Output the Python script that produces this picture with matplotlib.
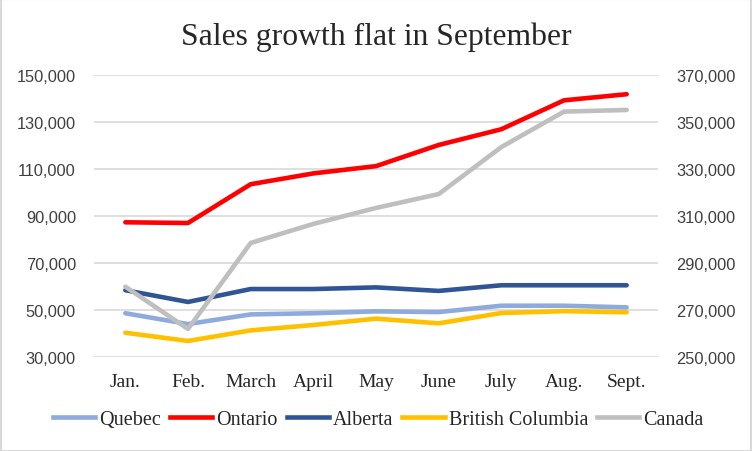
import matplotlib.pyplot as plt
from matplotlib.lines import Line2D
from matplotlib.ticker import FuncFormatter

months = ["Jan.", "Feb.", "March", "April", "May", "June", "July", "Aug.", "Sept."]

# provinces on left axis
quebec = [48500, 43900, 48000, 48500, 49300, 49000, 51700, 51700, 51000]
ontario = [87200, 86900, 103400, 108000, 111100, 120100, 126800, 139100, 141700]
alberta = [58300, 53300, 58800, 58800, 59500, 58000, 60400, 60400, 60400]
bc = [40200, 36700, 41200, 43500, 46200, 44200, 48600, 49400, 48900]
# canada total on right axis
canada = [279800, 261800, 298400, 306500, 313300, 319200, 339200, 354300, 355000]

serif = "Liberation Serif"
sans = "Liberation Sans"
txt = "#262626"

fig = plt.figure(figsize=(7.52, 4.52), dpi=100)
ax = fig.add_axes([0.125, 0.2086, 0.75, 0.6239])
ax2 = ax.twinx()

x = list(range(len(months)))
lw = 3.3
ax.plot(x, quebec, color="#8FAADC", lw=lw, solid_capstyle="round", solid_joinstyle="round")
ax.plot(x, ontario, color="#FF0000", lw=lw, solid_capstyle="round", solid_joinstyle="round")
ax.plot(x, alberta, color="#2F5597", lw=lw, solid_capstyle="round", solid_joinstyle="round")
ax.plot(x, bc, color="#FFC000", lw=lw, solid_capstyle="round", solid_joinstyle="round")
ax2.plot(x, canada, color="#BFBFBF", lw=lw, solid_capstyle="round", solid_joinstyle="round")

ax.set_xlim(-0.5, len(months) - 0.5)
ax.set_ylim(30000, 150000)
ax2.set_ylim(250000, 370000)
ax.set_yticks(range(30000, 150001, 20000))
ax2.set_yticks(range(250000, 370001, 20000))
fmt = FuncFormatter(lambda v, p: f"{int(v):,}")
ax.yaxis.set_major_formatter(fmt)
ax2.yaxis.set_major_formatter(fmt)

ax.set_xticks(x)
ax.set_xticklabels(months, fontfamily=serif, fontsize=14, color=txt)
ax.grid(axis="y", color="#D9D9D9", lw=1.2)
ax.set_axisbelow(True)

for a in (ax, ax2):
    for s in a.spines.values():
        s.set_visible(False)
    a.tick_params(length=0)
ax.tick_params(axis="x", pad=12)
ax.tick_params(axis="y", pad=13, labelsize=11.8, labelcolor="#404040")
ax2.tick_params(axis="y", pad=13, labelsize=11.8, labelcolor="#404040")
for lab in ax.get_yticklabels() + ax2.get_yticklabels():
    lab.set_fontfamily(sans)

fig.text(0.5, 0.917, "Sales growth flat in September", ha="center", va="center",
         fontfamily=serif, fontsize=22.8, color=txt)

handles = [Line2D([], [], color=c, lw=lw) for c in
           ["#8FAADC", "#FF0000", "#2F5597", "#FFC000", "#BFBFBF"]]
names = ["Quebec", "Ontario", "Alberta", "British Columbia", "Canada"]
fig.legend(handles, names, loc="center", bbox_to_anchor=(0.503, 0.069), ncol=5,
           frameon=False, prop={"family": serif, "size": 14.5}, handlelength=2.1,
           handletextpad=0.2, columnspacing=0.45, labelcolor=txt)

fig.patches.append(plt.Rectangle((0.001, 0.001), 0.998, 0.998, transform=fig.transFigure,
                                 fill=False, edgecolor="#D9D9D9", lw=1.5))

fig.savefig("out.png", dpi=100)
